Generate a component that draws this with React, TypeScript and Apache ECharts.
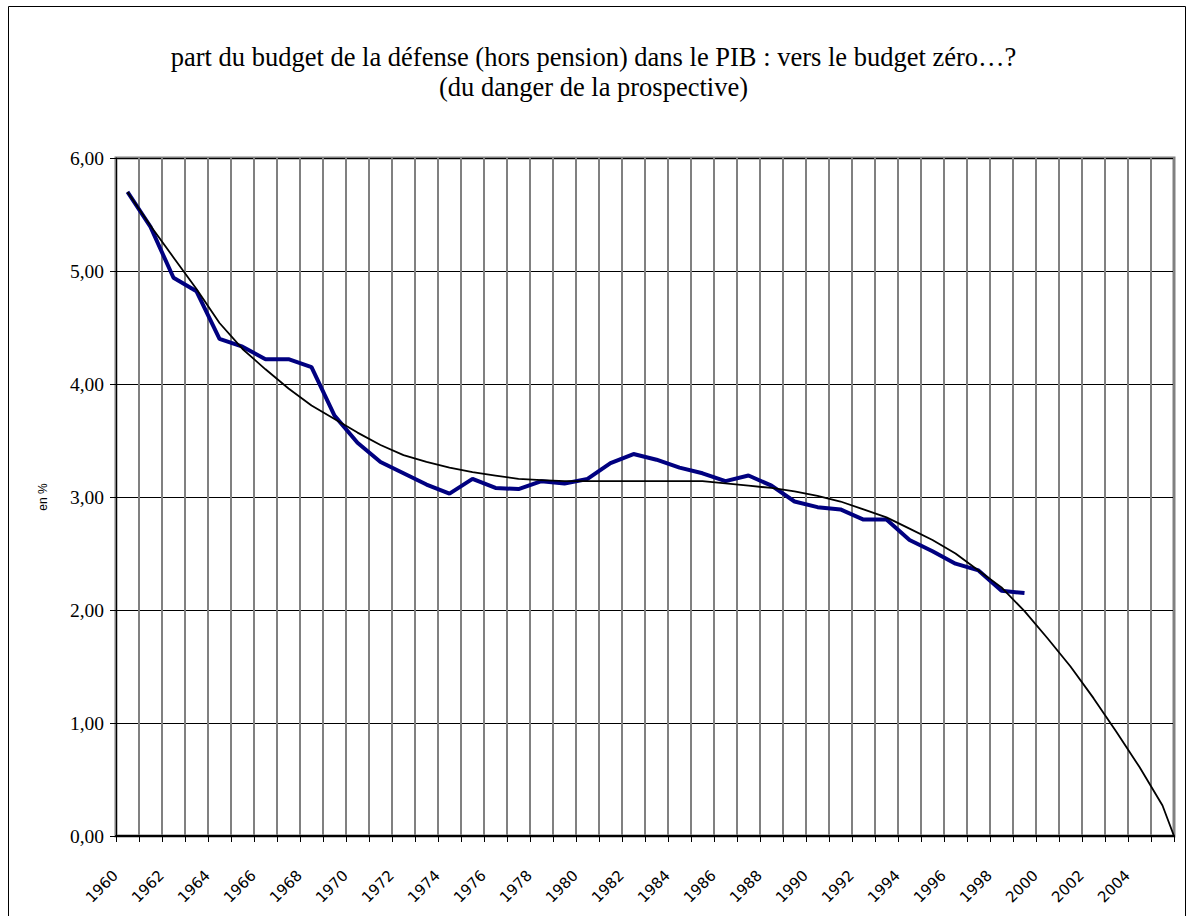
import React, { useEffect, useRef } from "react";
import * as echarts from "echarts";

const years = [
  "1960", "1961", "1962", "1963", "1964", "1965", "1966", "1967", "1968", "1969",
  "1970", "1971", "1972", "1973", "1974", "1975", "1976", "1977", "1978", "1979",
  "1980", "1981", "1982", "1983", "1984", "1985", "1986", "1987", "1988", "1989",
  "1990", "1991", "1992", "1993", "1994", "1995", "1996", "1997", "1998", "1999",
  "2000", "2001", "2002", "2003", "2004", "2005",
];

// part du budget de la défense (hors pension) dans le PIB, en %, 1960-1999
const defense = [
  5.70, 5.39, 4.94, 4.82, 4.40, 4.33, 4.22, 4.22, 4.15, 3.72,
  3.48, 3.31, 3.21, 3.11, 3.03, 3.16, 3.08, 3.07, 3.14, 3.12,
  3.16, 3.30, 3.38, 3.33, 3.26, 3.21, 3.14, 3.19, 3.10, 2.96,
  2.91, 2.89, 2.80, 2.80, 2.62, 2.52, 2.41, 2.35, 2.17, 2.15,
];

// tendance / prospective, 1960-2005
const trend = [
  5.70, 5.40, 5.12, 4.84, 4.54, 4.31, 4.13, 3.96, 3.81, 3.69,
  3.57, 3.46, 3.37, 3.31, 3.26, 3.22, 3.19, 3.16, 3.15, 3.14,
  3.14, 3.14, 3.14, 3.14, 3.14, 3.14, 3.12, 3.10, 3.08, 3.05,
  3.01, 2.96, 2.89, 2.82, 2.72, 2.62, 2.50, 2.35, 2.20, 1.99,
  1.75, 1.50, 1.22, 0.92, 0.61, 0.27,
];
// forecast end of the trend (half a period beyond 2005)
const trendEndYear = 2005.5;
const trendEndValue = 0;

const yTicks = { min: 0, max: 6, step: 1 };

const titleLines = [
  "part du budget de la défense (hors pension) dans le PIB : vers le budget zéro…?",
  "(du danger de la prospective)",
];

export default function App() {
  const ref = useRef<HTMLDivElement>(null);
  useEffect(() => {
    if (!ref.current) return;
    const chart = echarts.init(ref.current, null, { renderer: "svg" });
    const defenseData = defense.map((v, i) => [Number(years[i]), v]);
    const trendData = trend.map((v, i) => [Number(years[i]), v]);
    trendData.push([trendEndYear, trendEndValue]);
    const firstYear = Number(years[0]);
    const lastYear = Number(years[years.length - 1]);

    chart.setOption({
      animation: false,
      backgroundColor: "#ffffff",
      title: {
        text: titleLines.join("\n"),
        left: "center",
        top: 37,
        textStyle: {
          fontFamily: "Liberation Serif",
          fontSize: 26.5,
          fontWeight: "normal",
          color: "#000",
          lineHeight: 30,
        },
      },
      graphic: [
        {
          type: "rect",
          silent: true,
          z: -10,
          shape: { x: 8.5, y: 6.5, width: 1177, height: 1000 },
          style: { fill: "none", stroke: "#000", lineWidth: 1 },
        },
      ],
      grid: {
        left: 116,
        right: 13,
        top: 158,
        bottom: 80,
        show: true,
        borderColor: "#808080",
        borderWidth: 3,
        backgroundColor: "transparent",
      },
      xAxis: [
        {
          type: "category",
          data: years,
          boundaryGap: true,
          axisLine: { show: true, lineStyle: { color: "#000", width: 2 } },
          axisTick: { show: true, interval: 0, length: 6, lineStyle: { color: "#000", width: 1 } },
          splitLine: { show: true, interval: 0, lineStyle: { color: "#808080", width: 2 } },
          axisLabel: {
            interval: 1,
            rotate: 45,
            margin: 25,
            padding: [0, 17, 0, 0],
            fontFamily: "DejaVu Sans",
            fontSize: 15,
            color: "#000",
          },
        },
        {
          type: "value",
          min: firstYear - 0.5,
          max: lastYear + 0.5,
          show: false,
        },
      ],
      yAxis: {
        type: "value",
        min: yTicks.min,
        max: yTicks.max,
        interval: yTicks.step,
        name: "en %",
        nameLocation: "middle",
        nameGap: 67,
        nameTextStyle: { fontFamily: "Liberation Sans", fontSize: 12, color: "#000" },
        axisLine: { show: true, lineStyle: { color: "#000", width: 1 } },
        axisTick: { show: true, length: 6, lineStyle: { color: "#000" } },
        splitLine: { show: true, lineStyle: { color: "#000", width: 1 } },
        axisLabel: {
          formatter: (v: number) => v.toFixed(2).replace(".", ","),
          fontFamily: "Liberation Serif",
          fontSize: 19.5,
          color: "#000",
          margin: 12,
        },
      },
      series: [
        {
          type: "line",
          name: "budget défense",
          xAxisIndex: 1,
          data: defenseData,
          symbol: "none",
          lineStyle: { color: "#000080", width: 4 },
          z: 2,
        },
        {
          type: "line",
          name: "tendance",
          xAxisIndex: 1,
          data: trendData,
          symbol: "none",
          lineStyle: { color: "#000000", width: 1.8 },
          z: 3,
        },
      ],
    });
    return () => chart.dispose();
  }, []);

  return (
    <div
      ref={ref}
      style={{ position: "absolute", left: 0, top: 0, width: 1187, height: 916 }}
    />
  );
}
